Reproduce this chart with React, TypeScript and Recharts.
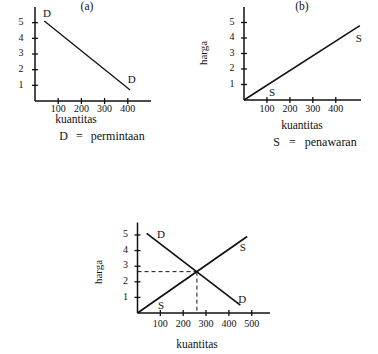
import { Line, LineChart, ReferenceDot, XAxis, YAxis } from "recharts";

const SERIF = "'Liberation Serif', 'DejaVu Serif', serif";
const INK = "#111";

// (a) permintaan
const demandA = [
  { q: 40, p: 5.1 },
  { q: 410, p: 0.7 },
];
// (b) penawaran
const supplyB = [
  { q: 0, p: 0 },
  { q: 505, p: 4.8 },
];
// (c) keseimbangan
const demandC = [
  { q: 40, p: 5.1 },
  { q: 450, p: 0.5 },
];
const supplyC = [
  { q: 0, p: 0 },
  { q: 480, p: 4.9 },
];
const eqQ = 260;
const eqP = 2.65;

const qTicksAB = [100, 200, 300, 400];
const qTicksC = [100, 200, 300, 400, 500];
const pTicks = [1, 2, 3, 4, 5];

const eqPriceLine = [
  { q: 0, p: eqP },
  { q: eqQ, p: eqP },
];
const eqQtyLine = [
  { q: eqQ, p: eqP },
  { q: eqQ, p: 0 },
];

const makeXTick = (dy: number) => (props: any) => {
  const { x, y, payload } = props;
  return (
    <g>
      <line x1={x} x2={x} y1={y - 3} y2={y + 3} stroke={INK} strokeWidth={1.3} />
      <text x={x} y={y + dy} textAnchor="middle" dominantBaseline="middle" fontSize={10} fontFamily={SERIF} fill={INK}>
        {payload.value}
      </text>
    </g>
  );
};

const makeYTick = (dx: number) => (props: any) => {
  const { x, y, payload } = props;
  return (
    <g>
      <line x1={x - 3} x2={x + 3} y1={y} y2={y} stroke={INK} strokeWidth={1.3} />
      <text x={x - dx} y={y} textAnchor="middle" dominantBaseline="middle" fontSize={10} fontFamily={SERIF} fill={INK}>
        {payload.value}
      </text>
    </g>
  );
};

const letter = (v: string) => ({ value: v, position: "center" as const, fontSize: 11, fontFamily: SERIF, fill: INK });

function Txt({
  x,
  y,
  children,
  rotate,
  size = 11.5,
  gap = 0,
}: {
  x: number;
  y: number;
  children: string;
  rotate?: boolean;
  size?: number;
  gap?: number;
}) {
  return (
    <div
      style={{
        position: "absolute",
        left: x,
        top: y,
        transform: `translate(-50%, -50%)${rotate ? " rotate(-90deg)" : ""}`,
        fontFamily: SERIF,
        fontSize: size,
        color: INK,
        whiteSpace: "nowrap",
        wordSpacing: gap,
        lineHeight: 1,
      }}
    >
      {children}
    </div>
  );
}

const axisProps = {
  axisLine: { stroke: INK, strokeWidth: 1.5 },
  tickLine: false,
  tickSize: 0,
  tickMargin: 0,
  interval: 0 as const,
};

export default function App() {
  return (
    <div style={{ position: "absolute", left: 0, top: 0, width: 378, height: 354, background: "#fff" }}>
      {/* (a) */}
      <div style={{ position: "absolute", left: 0, top: 0 }}>
        <LineChart width={165} height={125} margin={{ top: 7, right: 14, left: 0, bottom: 0 }}>
          <XAxis dataKey="q" type="number" domain={[0, 500]} ticks={qTicksAB} height={24} tick={makeXTick(9)} {...axisProps} />
          <YAxis dataKey="p" type="number" domain={[0, 6]} ticks={pTicks} width={35} tick={makeYTick(14)} {...axisProps} />
          <Line data={demandA} dataKey="p" stroke={INK} strokeWidth={1.3} dot={false} isAnimationActive={false} />
          <ReferenceDot x={52} y={5.6} r={0} stroke="none" label={letter("D")} />
          <ReferenceDot x={417} y={1.4} r={0} stroke="none" label={letter("D")} />
        </LineChart>
      </div>
      <Txt x={87} y={7}>(a)</Txt>
      <Txt x={76} y={120}>kuantitas</Txt>
      <Txt x={102} y={136} size={12} gap={5}>D = permintaan</Txt>

      {/* (b) */}
      <div style={{ position: "absolute", left: 190, top: 0 }}>
        <LineChart width={181} height={120} margin={{ top: 7, right: 10, left: 0, bottom: 0 }}>
          <XAxis dataKey="q" type="number" domain={[0, 510]} ticks={qTicksAB} height={20} tick={makeXTick(10)} {...axisProps} />
          <YAxis dataKey="p" type="number" domain={[0, 6]} ticks={pTicks} width={54} tick={makeYTick(12)} {...axisProps} />
          <Line data={supplyB} dataKey="p" stroke={INK} strokeWidth={1.5} dot={false} isAnimationActive={false} />
          <ReferenceDot x={122} y={0.5} r={0} stroke="none" label={letter("S")} />
          <ReferenceDot x={500} y={4.0} r={0} stroke="none" label={letter("S")} />
        </LineChart>
      </div>
      <Txt x={302} y={7}>(b)</Txt>
      <Txt x={203} y={53} rotate size={11}>harga</Txt>
      <Txt x={302} y={126}>kuantitas</Txt>
      <Txt x={315} y={142} size={12} gap={6}>S = penawaran</Txt>

      {/* (c) */}
      <div style={{ position: "absolute", left: 100, top: 210 }}>
        <LineChart width={180} height={123} margin={{ top: 12.5, right: 10, left: 0, bottom: 0 }}>
          <XAxis dataKey="q" type="number" domain={[0, 580]} ticks={qTicksC} height={20} tick={makeXTick(12)} {...axisProps} />
          <YAxis dataKey="p" type="number" domain={[0, 5.8]} ticks={pTicks} width={37.5} tick={makeYTick(12)} {...axisProps} />
          <Line data={eqPriceLine} dataKey="p" stroke={INK} strokeWidth={1} strokeDasharray="4 3" dot={false} isAnimationActive={false} />
          <Line data={eqQtyLine} dataKey="p" stroke={INK} strokeWidth={1} strokeDasharray="4 3" dot={false} isAnimationActive={false} />
          <Line data={demandC} dataKey="p" stroke={INK} strokeWidth={1.7} dot={false} isAnimationActive={false} />
          <Line data={supplyC} dataKey="p" stroke={INK} strokeWidth={1.7} dot={false} isAnimationActive={false} />
          <ReferenceDot x={103} y={5.08} r={0} stroke="none" label={letter("D")} />
          <ReferenceDot x={458} y={0.86} r={0} stroke="none" label={letter("D")} />
          <ReferenceDot x={103} y={0.53} r={0} stroke="none" label={letter("S")} />
          <ReferenceDot x={461} y={4.25} r={0} stroke="none" label={letter("S")} />
        </LineChart>
      </div>
      <Txt x={98} y={272} rotate size={11}>harga</Txt>
      <Txt x={197} y={345}>kuantitas</Txt>
    </div>
  );
}
